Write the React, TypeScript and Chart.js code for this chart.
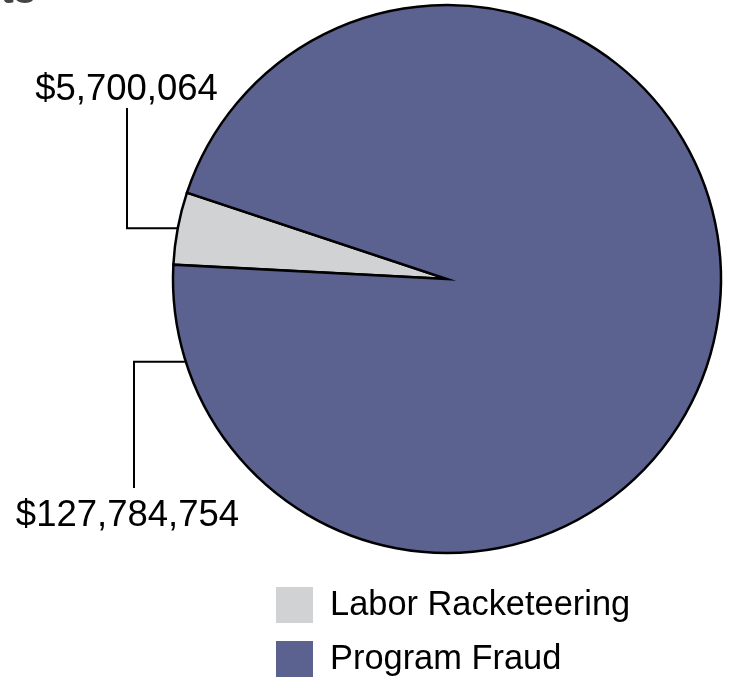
import React, { useEffect, useRef } from "react";
import { Chart, registerables } from "chart.js";

Chart.register(...registerables);

const categories = ["Labor Racketeering", "Program Fraud"];
const amounts = [5700064, 127784754];
const valueLabels = ["$5,700,064", "$127,784,754"];
const sliceColors = ["#D1D2D4", "#5C6290"];
const titleFragment = "ts";

const FONT = "'Liberation Sans', Arial, Helvetica, sans-serif";

// layout of leader lines (anchor angle in degrees, canvas coordinates; null = slice middle)
const leaderLayout = [
  { angle: null as number | null, elbowX: 127, endY: 108, textX: 126.5, textY: 100 },
  { angle: 162.4 as number | null, elbowX: 134, endY: 488, textX: 127.5, textY: 526 },
];

const annotationPlugin = {
  id: "annotations",
  afterDraw(chart: any) {
    const ctx = chart.ctx as CanvasRenderingContext2D;
    const meta = chart.getDatasetMeta(0);
    ctx.save();
    // title fragment (cropped)
    ctx.font = `bold 40px ${FONT}`;
    ctx.fillStyle = "#444444";
    ctx.textAlign = "right";
    ctx.textBaseline = "alphabetic";
    ctx.fillText(titleFragment, 36, 3);

    // leader lines and value labels
    meta.data.forEach((arc: any, i: number) => {
      const p = arc.getProps(["x", "y", "startAngle", "endAngle", "outerRadius"], true);
      const lay = leaderLayout[i];
      const ang = lay.angle === null ? (p.startAngle + p.endAngle) / 2 : (lay.angle * Math.PI) / 180;
      const ax = p.x + Math.cos(ang) * p.outerRadius;
      const ay = p.y + Math.sin(ang) * p.outerRadius;
      ctx.beginPath();
      ctx.strokeStyle = "#000000";
      ctx.lineWidth = 2;
      ctx.lineJoin = "miter";
      ctx.moveTo(ax, ay);
      ctx.lineTo(lay.elbowX, ay);
      ctx.lineTo(lay.elbowX, lay.endY);
      ctx.stroke();
      ctx.font = `36.5px ${FONT}`;
      ctx.fillStyle = "#000000";
      ctx.textAlign = "center";
      ctx.textBaseline = "alphabetic";
      ctx.fillText(valueLabels[i], lay.textX, lay.textY);
    });

    // legend
    const labels = chart.data.labels as string[];
    const colors = chart.data.datasets[0].backgroundColor as string[];
    labels.forEach((lab, i) => {
      const top = 587 + i * 54;
      ctx.fillStyle = colors[i];
      ctx.fillRect(276, top, 37, 36);
      ctx.font = `34.4px ${FONT}`;
      ctx.fillStyle = "#000000";
      ctx.textAlign = "left";
      ctx.textBaseline = "middle";
      ctx.fillText(lab, 330, top + 19);
    });
    ctx.restore();
  },
};

export default function App() {
  const ref = useRef<HTMLCanvasElement | null>(null);
  useEffect(() => {
    if (!ref.current) return;
    const chart = new Chart(ref.current, {
      type: "pie",
      data: {
        labels: categories,
        datasets: [
          {
            data: amounts,
            backgroundColor: sliceColors,
            borderColor: "#000000",
            borderWidth: 2.5,
            borderJoinStyle: "miter",
          } as any,
        ],
      },
      options: {
        animation: false,
        responsive: true,
        maintainAspectRatio: false,
        rotation: 273,
        radius: 274,
        layout: { padding: { left: 163, right: 0, top: 0, bottom: 119 } },
        plugins: {
          legend: { display: false },
          tooltip: { enabled: false },
          title: { display: false },
        },
        events: [],
      },
      plugins: [annotationPlugin],
    });
    return () => chart.destroy();
  }, []);
  return (
    <div style={{ position: "fixed", left: 0, top: 0, width: 731, height: 677, background: "#ffffff" }}>
      <canvas ref={ref} />
    </div>
  );
}
